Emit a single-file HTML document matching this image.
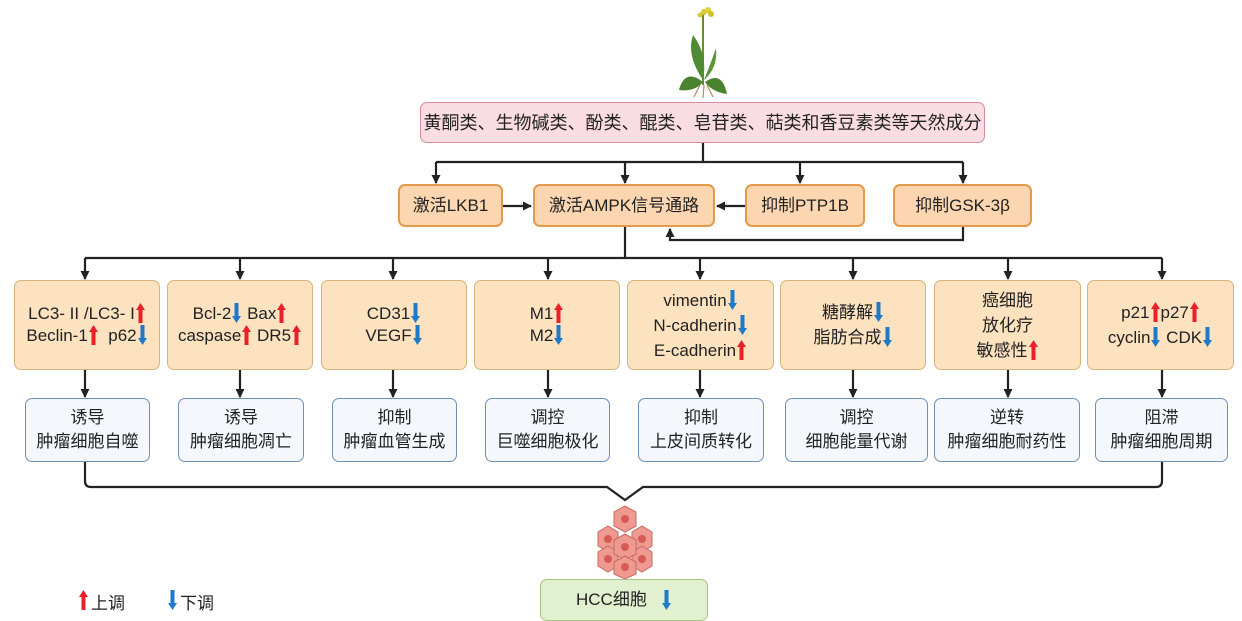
<!DOCTYPE html>
<html><head><meta charset="utf-8"><style>
body{margin:0;width:1242px;height:618px;background:#fff;position:relative;overflow:hidden;font-family:"Liberation Sans","Noto Sans CJK SC",sans-serif;color:#222}
.b{position:absolute;box-sizing:border-box;display:flex;flex-direction:column;align-items:center;justify-content:center;text-align:center;font-size:17px;line-height:22px;border-radius:7px}
.o{background:#fbd6b0;border:2px solid #e49a4c}
.y{background:#fce2bf;border:1.5px solid #d9b27c}
.w{background:#f4f8fd;border:1.5px solid #6d90b9}
.u,.d{display:inline-block;width:9px;height:20px;vertical-align:-4px;margin:0 1px}
svg.a{position:absolute;left:0;top:0}
</style></head><body>
<svg class="a" width="1242" height="618" viewBox="0 0 1242 618">
<defs>
<marker id="ah" markerWidth="9" markerHeight="9" refX="8" refY="4.5" orient="auto" markerUnits="userSpaceOnUse"><path d="M0,0 L9,4.5 L0,9 z" fill="#222"/></marker>
<symbol id="up" viewBox="0 0 9 20"><path d="M4.5,0 L9,7 L6.5,7 L6.5,20 L2.5,20 L2.5,7 L0,7z" fill="#e8202a"/></symbol>
<symbol id="dn" viewBox="0 0 9 20"><path d="M4.5,20 L9,13 L6.5,13 L6.5,0 L2.5,0 L2.5,13 L0,13z" fill="#1f78c8"/></symbol>
</defs>
<g stroke="#222" stroke-width="2.2" fill="none">
<path d="M703,143 V162 M436,162 H963"/>
<path d="M436,162 V183" marker-end="url(#ah)"/>
<path d="M625,162 V183" marker-end="url(#ah)"/>
<path d="M800,162 V183" marker-end="url(#ah)"/>
<path d="M963,162 V183" marker-end="url(#ah)"/>
<path d="M503,206 H531" marker-end="url(#ah)"/>
<path d="M745,206 H717" marker-end="url(#ah)"/>
<path d="M963,227 V240 H670 V229" marker-end="url(#ah)"/>
<path d="M625,227 V258 M85,258 H1162"/>
<path d="M85,258 V279" marker-end="url(#ah)"/>
<path d="M240,258 V279" marker-end="url(#ah)"/>
<path d="M393,258 V279" marker-end="url(#ah)"/>
<path d="M548,258 V279" marker-end="url(#ah)"/>
<path d="M700,258 V279" marker-end="url(#ah)"/>
<path d="M853,258 V279" marker-end="url(#ah)"/>
<path d="M1008,258 V279" marker-end="url(#ah)"/>
<path d="M1162,258 V279" marker-end="url(#ah)"/>
<path d="M85,370 V397" marker-end="url(#ah)"/>
<path d="M240,370 V397" marker-end="url(#ah)"/>
<path d="M393,370 V397" marker-end="url(#ah)"/>
<path d="M548,370 V397" marker-end="url(#ah)"/>
<path d="M700,370 V397" marker-end="url(#ah)"/>
<path d="M853,370 V397" marker-end="url(#ah)"/>
<path d="M1008,370 V397" marker-end="url(#ah)"/>
<path d="M1162,370 V397" marker-end="url(#ah)"/>
<path d="M85,462 V481 Q85,487 91,487 H607 L625,500 L643,487 H1156 Q1162,487 1162,481 V462"/>
</g>
<!-- plant -->
<g>
<path d="M703,12 V85" stroke="#6a8a3a" stroke-width="2"/>
<circle cx="704" cy="12" r="3" fill="#d9c83a"/><circle cx="708" cy="10" r="3" fill="#e2d040"/><circle cx="711" cy="14" r="3" fill="#cfc030"/><circle cx="700" cy="15" r="2.5" fill="#d9c83a"/>
<path d="M703,80 Q686,55 693,35 Q708,55 703,80z" fill="#4f8a34"/>
<path d="M704,80 Q712,60 716,48 Q718,68 704,80z" fill="#5a9638"/>
<path d="M703,82 Q685,68 679,90 Q695,92 703,82z" fill="#4a8230"/>
<path d="M705,82 Q722,70 727,94 Q712,92 705,82z" fill="#4a8230"/>
<path d="M700,85 L694,97 M704,85 L703,98 M707,85 L713,97" stroke="#b88a60" stroke-width="1.2"/>
</g>
<!-- cells -->
<g fill="#ee9a90" stroke="#c86a62" stroke-width="1">
<polygon points="598,532 608,526 618,532 618,546 608,552 598,546"/>
<polygon points="632,532 642,526 652,532 652,546 642,552 632,546"/>
<polygon points="598,552 608,546 618,552 618,566 608,572 598,566"/>
<polygon points="632,552 642,546 652,552 652,566 642,572 632,566"/>
<polygon points="614,512 625,506 636,512 636,526 625,532 614,526"/>
<polygon points="614,540 625,534 636,540 636,554 625,560 614,554"/>
<polygon points="614,562 625,556 636,562 636,574 625,579 614,574"/>
</g>
<g fill="#d65a55"><circle cx="625" cy="519" r="4"/><circle cx="608" cy="539" r="4"/><circle cx="642" cy="539" r="4"/><circle cx="625" cy="547" r="4"/><circle cx="608" cy="559" r="4"/><circle cx="642" cy="559" r="4"/><circle cx="625" cy="567" r="4"/></g>
<use href="#up" x="79" y="590" width="9" height="20"/>
<use href="#dn" x="168" y="590" width="9" height="20"/>
</svg>
<div style="position:absolute;left:91px;top:589px;font-size:17px">上调</div>
<div style="position:absolute;left:180px;top:589px;font-size:17px">下调</div>

<div class="b" style="left:420px;top:102px;width:565px;height:41px;background:#fadde3;border:1.5px solid #d8899a;font-size:18px">黄酮类、生物碱类、酚类、醌类、皂苷类、萜类和香豆素类等天然成分</div>
<div class="b o" style="left:398px;top:184px;width:105px;height:43px">激活LKB1</div>
<div class="b o" style="left:533px;top:184px;width:182px;height:43px">激活AMPK信号通路</div>
<div class="b o" style="left:745px;top:184px;width:120px;height:43px">抑制PTP1B</div>
<div class="b o" style="left:893px;top:184px;width:139px;height:43px">抑制GSK-3β</div>

<div class="b y" style="left:14px;top:280px;width:146px;height:90px"><div>LC3- II /LC3- I<svg class="u"><use href="#up"/></svg></div><div>Beclin-1<svg class="u"><use href="#up"/></svg>&nbsp; p62<svg class="d"><use href="#dn"/></svg></div></div>
<div class="b y" style="left:167px;top:280px;width:146px;height:90px"><div>Bcl-2<svg class="d"><use href="#dn"/></svg> Bax<svg class="u"><use href="#up"/></svg></div><div>caspase<svg class="u"><use href="#up"/></svg> DR5<svg class="u"><use href="#up"/></svg></div></div>
<div class="b y" style="left:321px;top:280px;width:146px;height:90px"><div>CD31<svg class="d"><use href="#dn"/></svg></div><div>VEGF<svg class="d"><use href="#dn"/></svg></div></div>
<div class="b y" style="left:474px;top:280px;width:146px;height:90px"><div>M1<svg class="u"><use href="#up"/></svg></div><div>M2<svg class="d"><use href="#dn"/></svg></div></div>
<div class="b y" style="left:627px;top:280px;width:147px;height:90px;line-height:25px"><div>vimentin<svg class="d"><use href="#dn"/></svg></div><div>N-cadherin<svg class="d"><use href="#dn"/></svg></div><div>E-cadherin<svg class="u"><use href="#up"/></svg></div></div>
<div class="b y" style="left:780px;top:280px;width:146px;height:90px;line-height:25px"><div>糖酵解<svg class="d"><use href="#dn"/></svg></div><div>脂肪合成<svg class="d"><use href="#dn"/></svg></div></div>
<div class="b y" style="left:934px;top:280px;width:147px;height:90px;line-height:25px"><div>癌细胞</div><div>放化疗</div><div>敏感性<svg class="u"><use href="#up"/></svg></div></div>
<div class="b y" style="left:1087px;top:280px;width:147px;height:90px;line-height:25px"><div>p21<svg class="u"><use href="#up"/></svg>p27<svg class="u"><use href="#up"/></svg></div><div>cyclin<svg class="d"><use href="#dn"/></svg> CDK<svg class="d"><use href="#dn"/></svg></div></div>

<div class="b w" style="left:25px;top:398px;width:125px;height:64px;line-height:24px"><div>诱导</div><div>肿瘤细胞自噬</div></div>
<div class="b w" style="left:178px;top:398px;width:126px;height:64px;line-height:24px"><div>诱导</div><div>肿瘤细胞凋亡</div></div>
<div class="b w" style="left:332px;top:398px;width:125px;height:64px;line-height:24px"><div>抑制</div><div>肿瘤血管生成</div></div>
<div class="b w" style="left:485px;top:398px;width:125px;height:64px;line-height:24px"><div>调控</div><div>巨噬细胞极化</div></div>
<div class="b w" style="left:638px;top:398px;width:126px;height:64px;line-height:24px"><div>抑制</div><div>上皮间质转化</div></div>
<div class="b w" style="left:785px;top:398px;width:143px;height:64px;line-height:24px"><div>调控</div><div>细胞能量代谢</div></div>
<div class="b w" style="left:934px;top:398px;width:146px;height:64px;line-height:24px"><div>逆转</div><div>肿瘤细胞耐药性</div></div>
<div class="b w" style="left:1095px;top:398px;width:133px;height:64px;line-height:24px"><div>阻滞</div><div>肿瘤细胞周期</div></div>

<div class="b" style="left:540px;top:579px;width:168px;height:42px;background:#e1f0cf;border:1.5px solid #a3c585;flex-direction:row">HCC细胞&nbsp;&nbsp;&nbsp;<svg class="d"><use href="#dn"/></svg></div>
</body></html>
